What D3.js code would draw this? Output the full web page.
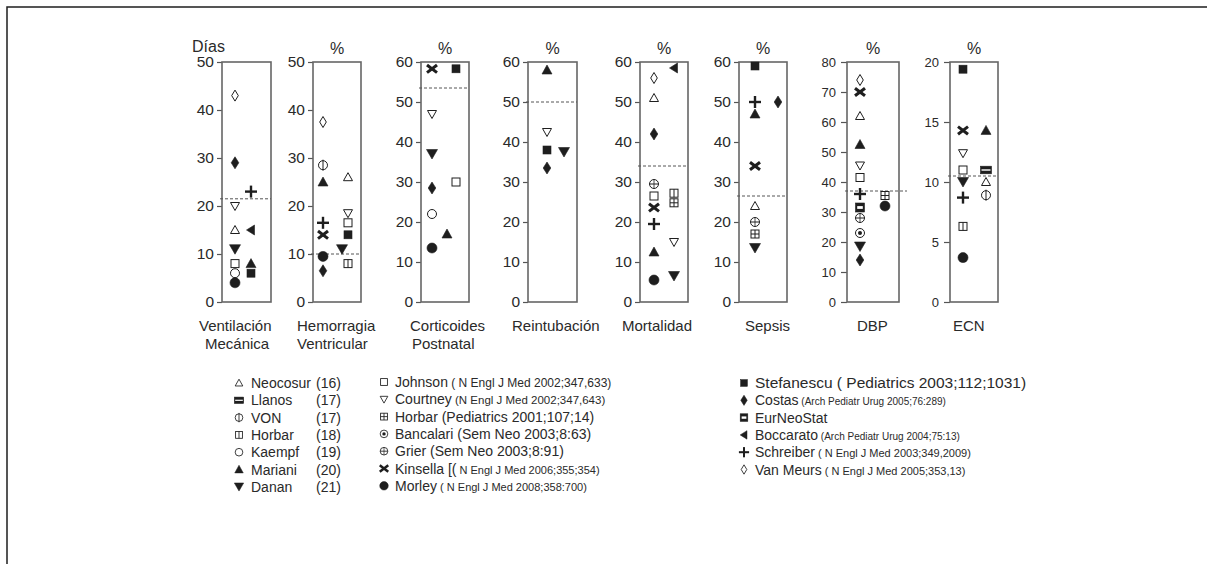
<!DOCTYPE html>
<html><head><meta charset="utf-8">
<script src="https://cdn.jsdelivr.net/npm/d3@7"></script>
<style>
body{margin:0;background:#fff}
svg{display:block}
text{font-family:"Liberation Sans",Arial,sans-serif;fill:#2a2a2a}
</style>
</head><body>
<svg id="c" width="1207" height="564"></svg>
<script>
// ---------- DATA ----------
const categories = [["Ventilación","Mecánica"],["Hemorragia","Ventricular"],["Corticoides","Postnatal"],["Reintubación"],["Mortalidad"],["Sepsis"],["DBP"],["ECN"]];
const units = ["Días","%","%","%","%","%","%","%"];
const yMax = [50,50,60,60,60,60,80,20];
const tickStep = [10,10,10,10,10,10,10,5];
const refValues = [21.5,10,53.5,50,34,26.5,37,10.5];

// [study, value, lane]
const ventilacion = [["vanmeurs",43,"L"],["costas",29,"L"],["schreiber",23,"R"],["courtney",20,"L"],["neocosur",15,"L"],["boccarato",15,"R"],["danan",11,"L"],["johnson",8,"L"],["mariani",8,"R"],["kaempf",6,"L"],["stefanescu",6,"R"],["morley",4,"L"]];
const hemorragia = [["vanmeurs",37.5,"L"],["von",28.5,"L"],["mariani",25,"L"],["neocosur",26,"R"],["courtney",18.5,"R"],["johnson",16.5,"R"],["schreiber",16.5,"L"],["kinsella",14,"L"],["stefanescu",14,"R"],["danan",11,"M"],["morley",9.5,"L"],["horbar18",8,"R"],["costas",6.5,"L"]];
const corticoides = [["kinsella",58.3,"L"],["stefanescu",58.3,"R"],["courtney",47,"L"],["danan",37,"L"],["johnson",30,"R"],["costas",28.5,"L"],["kaempf",22,"L"],["mariani",17,"M"],["morley",13.5,"L"]];
const reintubacion = [["mariani",58,"L"],["courtney",42.5,"L"],["stefanescu",38,"L"],["danan",37.5,"R"],["costas",33.5,"L"]];
const mortalidad = [["boccarato",58.5,"R"],["vanmeurs",56,"L"],["neocosur",51,"L"],["costas",42,"L"],["grier",29.5,"L"],["johnson",26.5,"L"],["horbar18",27.2,"R"],["horbarPed",24.8,"R"],["kinsella",23.6,"L"],["schreiber",19.5,"L"],["courtney",15,"R"],["mariani",12.5,"L"],["danan",6.5,"R"],["morley",5.5,"L"]];
const sepsis = [["stefanescu",59,"L"],["schreiber",50,"L"],["costas",50,"R"],["mariani",47,"L"],["kinsella",34,"L"],["neocosur",24,"L"],["grier",20,"L"],["horbarPed",17,"L"],["danan",13.5,"L"]];
const dbp = [["vanmeurs",74,"L"],["kinsella",70,"L"],["neocosur",62,"L"],["mariani",52.5,"L"],["courtney",45.5,"L"],["johnson",41.5,"L"],["schreiber",36,"L"],["horbarPed",35.5,"R"],["eurneostat",31.5,"L"],["morley",32,"R"],["grier",28,"L"],["bancalari",23,"L"],["danan",18.5,"L"],["costas",14,"L"]];
const ecn = [["stefanescu",19.4,"L"],["kinsella",14.3,"L"],["mariani",14.3,"R"],["courtney",12.4,"L"],["johnson",11,"L"],["llanos",11,"R"],["danan",10,"L"],["neocosur",10,"R"],["schreiber",8.7,"L"],["von",8.9,"R"],["horbar18",6.3,"L"],["morley",3.7,"L"]];
const panelData = [ventilacion, hemorragia, corticoides, reintubacion, mortalidad, sepsis, dbp, ecn];

// legend: [symbol, name, citation]
const legendCol1 = [["neocosur","Neocosur","(16)"],["llanos","Llanos","(17)"],["von","VON","(17)"],["horbar18","Horbar","(18)"],["kaempf","Kaempf","(19)"],["mariani","Mariani","(20)"],["danan","Danan","(21)"]];
const legendCol2 = [["johnson","Johnson"," ( N Engl J Med 2002;347,633)"],["courtney","Courtney"," (N Engl J Med 2002;347,643)"],["horbarPed","Horbar (Pediatrics 2001;107;14)",""],["bancalari","Bancalari (Sem Neo 2003;8:63)",""],["grier","Grier  (Sem Neo 2003;8:91)",""],["kinsella","Kinsella [("," N Engl J Med 2006;355;354)"],["morley","Morley"," ( N Engl J Med 2008;358:700)"]];
const legendCol3 = [["stefanescu","Stefanescu ( Pediatrics 2003;112;1031)",""],["costas","Costas"," (Arch Pediatr Urug 2005;76:289)"],["eurneostat","EurNeoStat",""],["boccarato","Boccarato"," (Arch Pediatr Urug 2004;75:13)"],["schreiber","Schreiber"," ( N Engl J Med 2003;349,2009)"],["vanmeurs","Van Meurs"," ( N Engl J Med 2005;353,13)"]];

// ---------- LAYOUT ----------
const svg = d3.select("#c");
const INK = "#1e1e1e";
svg.append("rect").attr("x",7).attr("y",7).attr("width",1400).attr("height",800)
  .attr("fill","none").attr("stroke",INK).attr("stroke-width",1.5);

const TOP = 62, BOTTOM = 302;
const boxLeft = [222,313,421,528,640,739,847,950];
const boxWidth = [49,48,48,49,48,48,52,48];
const laneOffset = [{L:13,M:26,R:29},{L:10,M:29,R:35},{L:11,M:26,R:35},{L:19,M:28,R:36},{L:14,M:24,R:34},{L:16,M:28,R:39},{L:13,M:25,R:38},{L:13,M:25,R:36}];
const labelX = [[199,205],[297,297],[410,412],[512],[622],[745],[857],[953]];

function drawSymbol(g, key, x, y, k) {
  k = k || 1;
  const s = g.append("g").attr("transform", `translate(${x},${y}) scale(${k})`);
  const open = {fill:"#fff", stroke:INK, "stroke-width":1};
  const fill = {fill:INK, stroke:INK, "stroke-width":0.6};
  const ap = (sel, o) => { Object.entries(o).forEach(([a,v]) => sel.attr(a,v)); return sel; };
  const line = (x1,y1,x2,y2,w) => s.append("line").attr("x1",x1).attr("y1",y1).attr("x2",x2).attr("y2",y2).attr("stroke",INK).attr("stroke-width",w||1);
  switch (key) {
    case "neocosur": ap(s.append("path").attr("d","M0,-4.5L4.5,3.5L-4.5,3.5Z"), open); break;
    case "mariani": ap(s.append("path").attr("d","M0,-5L5,4L-5,4Z"), fill); break;
    case "courtney": ap(s.append("path").attr("d","M0,4.5L4.5,-3.5L-4.5,-3.5Z"), open); break;
    case "danan": ap(s.append("path").attr("d","M0,5L5.5,-4.5L-5.5,-4.5Z"), fill); break;
    case "johnson": ap(s.append("rect").attr("x",-4).attr("y",-4).attr("width",8).attr("height",8), open); break;
    case "stefanescu": ap(s.append("rect").attr("x",-4).attr("y",-4).attr("width",8).attr("height",8), fill); break;
    case "kaempf": ap(s.append("circle").attr("r",4.5), open); break;
    case "morley": ap(s.append("circle").attr("r",5), fill); break;
    case "vanmeurs": ap(s.append("path").attr("d","M0,-5.5L3.3,0L0,5.5L-3.3,0Z"), open); break;
    case "costas": ap(s.append("path").attr("d","M0,-6L3.8,0L0,6L-3.8,0Z"), fill); break;
    case "kinsella": line(-5,-3.8,5,3.8,3); line(-5,3.8,5,-3.8,3); break;
    case "schreiber": line(-6,0,6,0,2.4); line(0,-6,0,6,2.4); break;
    case "boccarato": ap(s.append("path").attr("d","M-4.5,0L3.5,-5L3.5,5Z"), fill); break;
    case "von": ap(s.append("circle").attr("r",4.5), open); line(0,-5.5,0,5.5,1); break;
    case "grier": ap(s.append("circle").attr("r",4.5), open); line(-4.5,0,4.5,0,1); line(0,-4.5,0,4.5,0.8); break;
    case "horbar18": ap(s.append("rect").attr("x",-4).attr("y",-4).attr("width",8).attr("height",8), open); line(0,-4,0,4,1); break;
    case "horbarPed": ap(s.append("rect").attr("x",-4).attr("y",-4).attr("width",8).attr("height",8), open); line(0,-4,0,4,1); line(-4,0,4,0,1); break;
    case "bancalari": ap(s.append("circle").attr("r",4.5), open); s.append("circle").attr("r",2).attr("fill",INK); break;
    case "eurneostat": ap(s.append("rect").attr("x",-4.5).attr("y",-4.5).attr("width",9).attr("height",9), fill);
      s.append("rect").attr("x",-2.8).attr("y",-1.4).attr("width",5.6).attr("height",2.8).attr("fill","#fff"); break;
    case "llanos": ap(s.append("rect").attr("x",-5.5).attr("y",-3.8).attr("width",11).attr("height",7.6), fill);
      s.append("rect").attr("x",-4.5).attr("y",-0.7).attr("width",9).attr("height",1.4).attr("fill","#fff"); break;
  }
}

panelData.forEach((data, i) => {
  const x0 = boxLeft[i], w = boxWidth[i];
  const g = svg.append("g");
  const y = d3.scaleLinear().domain([0, yMax[i]]).range([BOTTOM, TOP]);
  const lanes = laneOffset[i];
  const x = d3.scaleOrdinal().domain(["L","M","R"]).range([x0+lanes.L, x0+lanes.M, x0+lanes.R]);
  const small = i >= 6;

  const ax = g.append("g").attr("transform",`translate(${x0},0)`)
    .call(d3.axisLeft(y).tickValues(d3.range(0, yMax[i]+0.001, tickStep[i])).tickSize(small?6:5).tickPadding(small?5:3));
  ax.select(".domain").remove();
  ax.selectAll(".tick line").attr("stroke","#555").attr("stroke-width",1.2);
  ax.selectAll(".tick text").style("font-family",'"Liberation Sans",Arial,sans-serif')
    .style("font-size", small?"13px":"15.5px").attr("fill","#333");

  g.append("rect").attr("x",x0).attr("y",TOP).attr("width",w).attr("height",BOTTOM-TOP)
    .attr("fill","none").attr("stroke","#666").attr("stroke-width",1.6);

  g.append("line").attr("x1",x0-2).attr("x2",x0+w+(i===6?8:0))
    .attr("y1",y(refValues[i])).attr("y2",y(refValues[i]))
    .attr("stroke","#555").attr("stroke-width",1).attr("stroke-dasharray","3,2");

  if (i === 0) {
    g.append("text").attr("x",192).attr("y",52).style("font-size","16px").text(units[i]);
  } else {
    g.append("text").attr("x",x0+w/2).attr("y",54).attr("text-anchor","middle").style("font-size","16px").text(units[i]);
  }

  categories[i].forEach((t, j) => {
    g.append("text").attr("x",labelX[i][j]).attr("y",331 + j*18).style("font-size","15px").text(t);
  });

  data.forEach(d => drawSymbol(g, d[0], x(d[2]), y(d[1]), 1));
});

// ---------- LEGEND ----------
const leg = svg.append("g");
const rowH = 17.3;
const citeSize2 = [12, 11.5, 14, 14, 14, 11, 11];
const nameSize2 = [14, 14, 14, 14, 14, 14, 14];
const citeSize3 = [14, 10, 14, 10, 11, 11];
const nameSize3 = [15.5, 14, 14, 14, 14, 14];
function legendColumn(rows, symX, textX, y0, numX, nameSizes, citeSizes) {
  rows.forEach((r, j) => {
    const yy = y0 + j*rowH;
    drawSymbol(leg, r[0], symX, yy, 0.85);
    const t = leg.append("text").attr("x",textX).attr("y",yy+5).style("font-size",(nameSizes?nameSizes[j]:14)+"px");
    if (numX) {
      t.text(r[1]);
      leg.append("text").attr("x",numX).attr("y",yy+5).style("font-size","14px").text(r[2]);
    } else {
      t.append("tspan").text(r[1]);
      if (r[2]) t.append("tspan").style("font-size",citeSizes[j]+"px").text(r[2]);
    }
  });
}
legendColumn(legendCol1, 239, 251, 383, 316);
legendColumn(legendCol2, 384, 395, 382, null, nameSize2, citeSize2);
legendColumn(legendCol3, 744, 755, 383, null, nameSize3, citeSize3);
</script>
</body></html>
